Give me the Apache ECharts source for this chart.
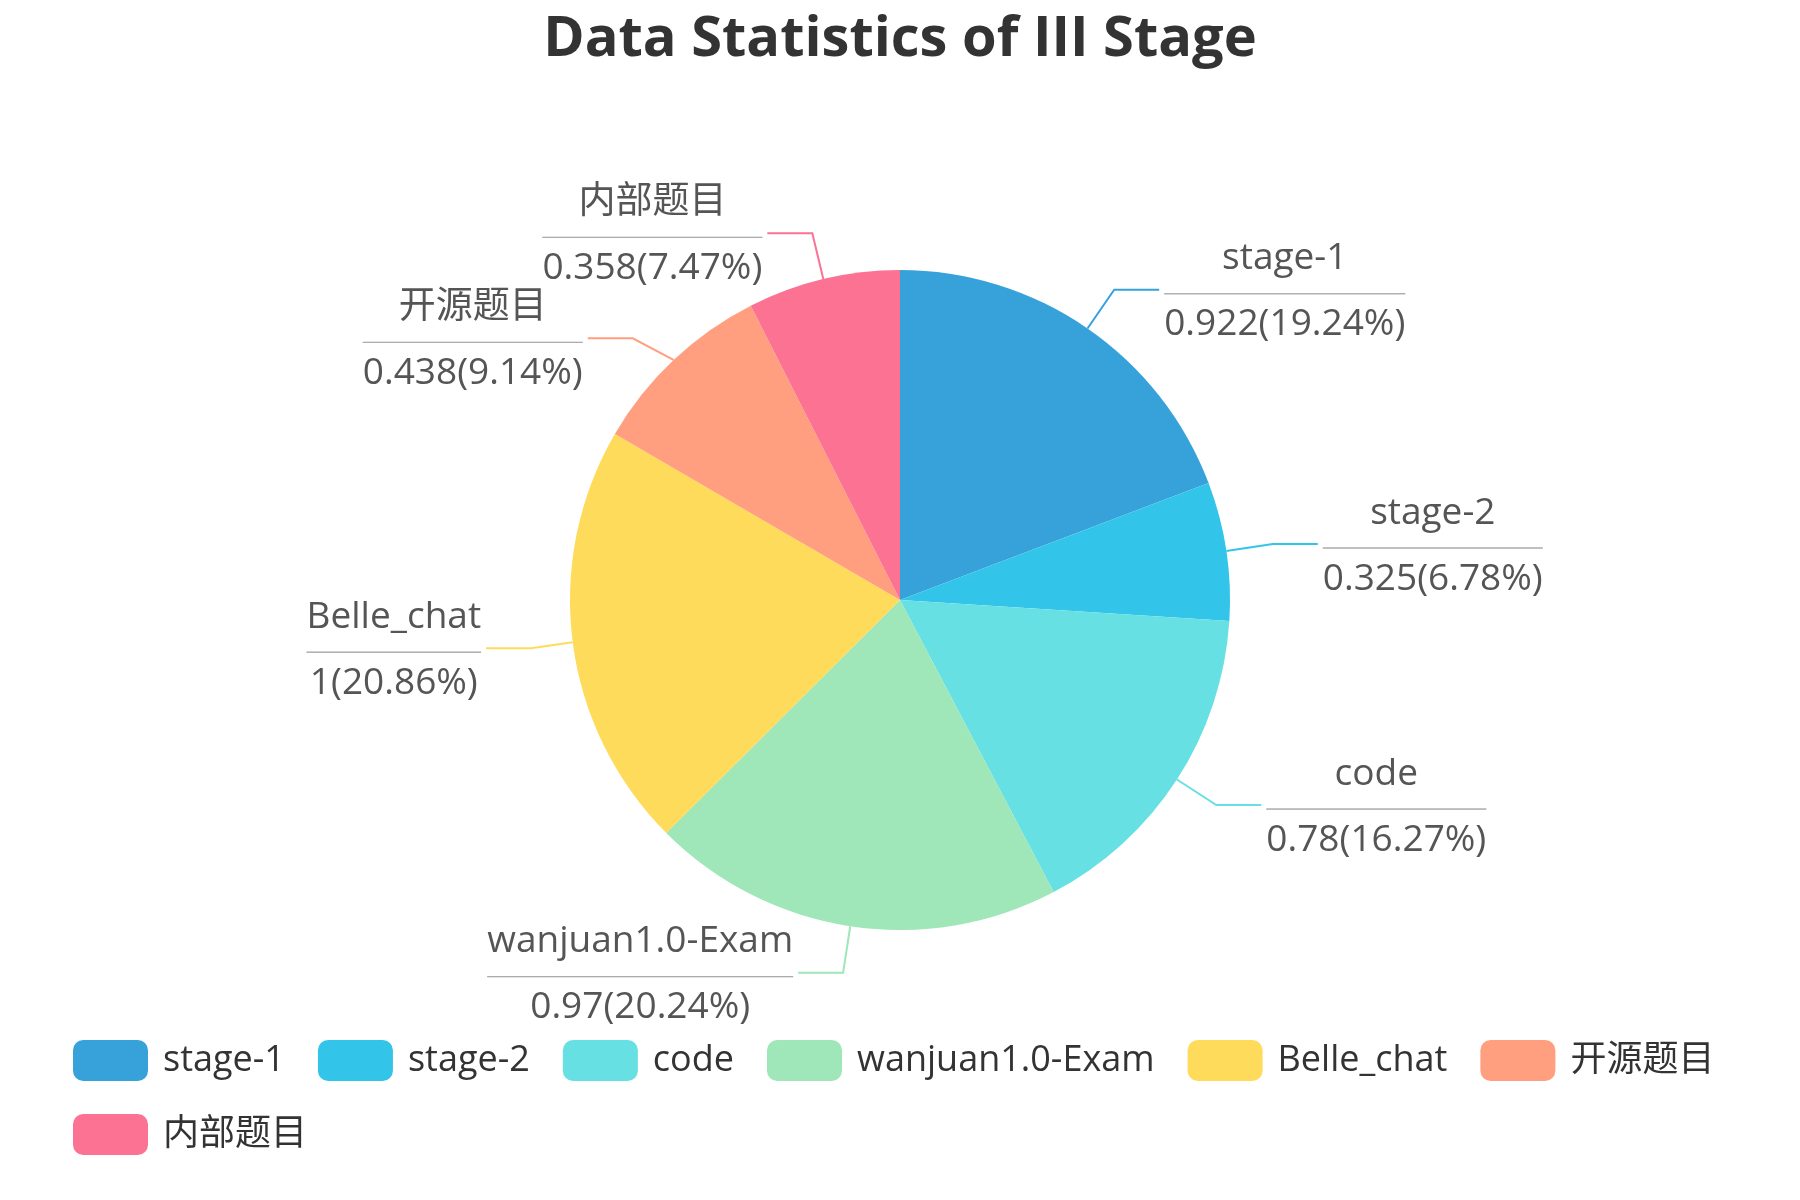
<!DOCTYPE html>
<html>
<head>
<meta charset="utf-8">
<script src="https://cdn.jsdelivr.net/npm/echarts@6/dist/echarts.min.js"></script>
<style>
  html, body { margin: 0; padding: 0; background: #fff; }
  #main { width: 1800px; height: 1200px; }
</style>
</head>
<body>
<div id="main"></div>
<script>
const names = ['stage-1', 'stage-2', 'code', 'wanjuan1.0-Exam', 'Belle_chat', '开源题目', '内部题目']
const values = [0.922, 0.325, 0.78, 0.97, 1, 0.438, 0.358]
const colors = ['#37A2DA', '#32C5E9', '#67E0E3', '#9FE6B8', '#FFDB5C', '#ff9f7f', '#fb7293']

const font = "'Open Sans', 'Noto Sans CJK SC', sans-serif"
const chart = echarts.init(document.getElementById('main'))

chart.setOption({
  color: colors,
  textStyle: { fontFamily: font },
  title: {
    text: 'Data Statistics of III Stage',
    left: 'center',
    top: 7,
    textStyle: { fontSize: 56, fontWeight: 'bold', color: '#333', fontFamily: font }
  },
  legend: {
    data: names,
    left: 68,
    right: 40,
    top: 1035,
    icon: 'roundRect',
    itemWidth: 75,
    itemHeight: 41,
    itemGap: 33,
    textStyle: { fontSize: 36, color: '#333', padding: [0, 0, 0, 10] }
  },
  series: [
    {
      name: 'stage',
      type: 'pie',
      radius: 330,
      center: ['50%', '50%'],
      data: names.map((n, i) => ({ name: n, value: values[i] })),
      label: {
        formatter: '{b|{b}}\n{hr|}\n{per|{c}({d}%)}',
        color: '#555',
        rich: {
          b: { fontSize: 37, color: '#555', lineHeight: 70, align: 'center' },
          hr: { borderColor: '#aaa', width: '100%', borderWidth: 1, height: 0 },
          per: { fontSize: 37, color: '#555', lineHeight: 62, align: 'center' }
        }
      },
      labelLine: { length: 47, length2: 45, lineStyle: { width: 2 } }
    }
  ]
})
</script>
</body>
</html>
